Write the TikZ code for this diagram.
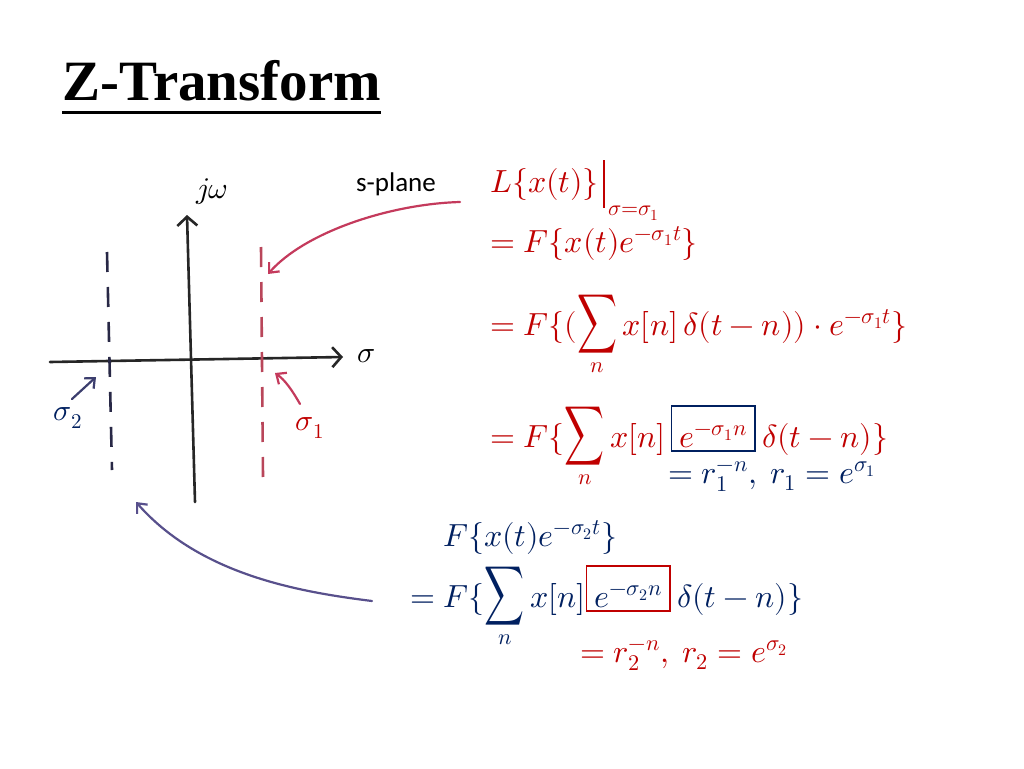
\documentclass[tikz,border=0pt]{standalone}
\usepackage{fontspec}
\usepackage{unicode-math}
\setmainfont{Liberation Serif}
\setmathfont{Latin Modern Math}
\newfontfamily\calib{Carlito}
\usetikzlibrary{arrows.meta}
\definecolor{eqred}{RGB}{192,0,0}
\definecolor{eqblue}{RGB}{0,32,96}
\definecolor{pinkpen}{RGB}{196,58,92}
\definecolor{purplepen}{RGB}{88,80,140}
\definecolor{bluepen}{RGB}{60,62,110}
\definecolor{dashred}{RGB}{185,70,90}
\definecolor{dashblue}{RGB}{40,40,70}
\newsavebox\sumbox
\newcommand{\bigsum}{\sbox\sumbox{\resizebox*{40pt}{58pt}{$\displaystyle\sum$}}%
  \mathop{\raisebox{\dimexpr\dp\sumbox-18pt\relax}[40pt][18pt]{\usebox\sumbox}}\limits}
\begin{document}
\begin{tikzpicture}[x=1pt,y=-1pt,
  eq/.style={inner sep=0pt, anchor=base west, font=\fontsize{32}{38}\selectfont},
  boxed/.style={eq, inner xsep=8pt, inner ysep=4pt, text height=37pt, text depth=0pt, line width=1.4pt},
  lbl/.style={inner sep=0pt, font=\fontsize{30}{34}\selectfont},
  axis/.style={line width=2.6pt, black!85, line cap=round, -{Straight Barb[length=9pt,width=20pt,line width=2.6pt]}},
  pen/.style={line width=2.2pt, line cap=round, -{Straight Barb[length=8pt,width=14pt,line width=2.2pt]}},
  dashline/.style={line width=2.6pt, dash pattern=on 20pt off 15pt}
]
\useasboundingbox (0,0) rectangle (1024,768);
\fill[white] (0,0) rectangle (1024,768);

% title
\node[inner sep=0pt, anchor=base west, font=\fontsize{57}{60}\selectfont\bfseries] (title) at (62,100) {Z-Transform};
\draw[line width=3pt] ([yshift=-12pt]title.base west) -- ([yshift=-12pt]title.base east);

% axes
\coordinate (hl) at (50,362);
\coordinate (hr) at (343,357);
\coordinate (vb) at (195,502);
\coordinate (vt) at (187,215);
\draw[axis] (hl) -- (hr);
\draw[axis] (vb) -- (vt);

% dashed lines
\coordinate (b1) at (107,252); \coordinate (b2) at (112,470);
\coordinate (r1t) at (261,247); \coordinate (r1b) at (263,477);
\draw[dashline, dashblue] (b1) -- (b2);
\draw[dashline, dashred] (r1t) -- (r1b);

% axis labels
\node[lbl] (jw) at (212,192) {$j\omega$};
\node[lbl] (sig) at (366,356) {$\sigma$};
\node[lbl, text=eqblue] (sig2) at (68,418) {$\sigma_2$};
\node[lbl, text=eqred] (sig1) at (310,428) {$\sigma_1$};
\node[inner sep=0pt, font=\calib\fontsize{27}{30}\selectfont] (spl) at (396,184) {s-plane};

% pen arrows
\coordinate (sa) at (460,202); \coordinate (st) at (268,274);
\draw[pen, pinkpen] (sa) .. controls (390,204) and (305,232) .. (st);
\coordinate (s1a) at (300,404); \coordinate (s1t) at (275,373);
\draw[pen, pinkpen] (s1a) .. controls (292,390) and (285,380) .. (s1t);
\coordinate (s2a) at (72,399); \coordinate (s2t) at (96,377);
\draw[pen, bluepen] (s2a) -- (s2t);
\coordinate (pa) at (372,601); \coordinate (pt) at (136,502);
\draw[pen, purplepen] (pa) .. controls (300,592) and (200,575) .. (pt);

% red equations
\node[eq, text=eqred] (l1) at (490,192) {$L\{x(t)\}$};
\coordinate (bart) at ([xshift=5pt,yshift=32pt]l1.base east);
\coordinate (barb) at ([xshift=5pt,yshift=-16pt]l1.base east);
\draw[eqred, line width=2.2pt] (bart) -- (barb);
\node[inner sep=0pt, anchor=base west, text=eqred, font=\fontsize{22}{26}\selectfont] (l1s) at ([xshift=9pt,yshift=-23pt]l1.base east) {$\sigma{=}\sigma_1$};
\node[eq, text=eqred] (l2) at (490,252) {$=F\{x(t)e^{-\sigma_1 t}\}$};
\node[eq, text=eqred] (l3) at (490,335) {$=F\{(\bigsum_n x[n]\,\delta(t-n))\cdot e^{-\sigma_1 t}\}$};
\node[eq, text=eqred] (l4a) at (490,447) {$=F\{\bigsum_n x[n]$};
\node[boxed, draw=eqblue, text=eqred] (box1) at ([xshift=5pt]l4a.base east) {$e^{-\sigma_1 n}$};
\node[eq, text=eqred] (l4b) at ([xshift=6pt]box1.base east) {$\delta(t-n)\}$};
\node[eq, text=eqblue] (rr1) at (668,483) {$=r_1^{-n},\ r_1=e^{\sigma_1}$};

% blue equations
\node[eq, text=eqblue] (m1) at (443,546) {$F\{x(t)e^{-\sigma_2 t}\}$};
\node[eq, text=eqblue] (m2a) at (410,607) {$=F\{\bigsum_n x[n]$};
\node[boxed, draw=eqred, text=eqblue] (box2) at ([xshift=0pt]m2a.base east) {$e^{-\sigma_2 n}$};
\node[eq, text=eqblue] (m2b) at ([xshift=6pt]box2.base east) {$\delta(t-n)\}$};
\node[eq, text=eqred] (rr2) at (580,662) {$=r_2^{-n},\ r_2=e^{\sigma_2}$};
\end{tikzpicture}
\end{document}
